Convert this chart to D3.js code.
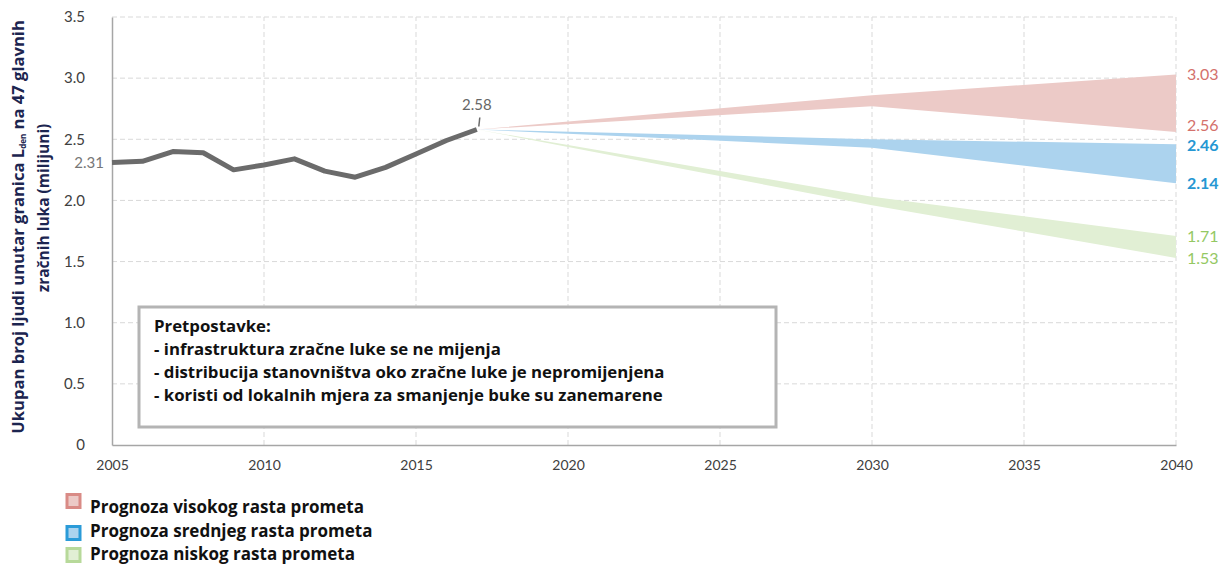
<!DOCTYPE html>
<html><head><meta charset="utf-8">
<script src="https://cdn.jsdelivr.net/npm/d3@7"></script>
<style>
body{margin:0;background:#fff;}
svg{display:block;font-family:Lato,"Open Sans",sans-serif;}
</style></head>
<body><svg id="c" width="1219" height="566"></svg>
<script>
// ---- data ----
const histYears = [2005,2006,2007,2008,2009,2010,2011,2012,2013,2014,2015,2016,2017];
const histValues = [2.31,2.32,2.40,2.39,2.25,2.29,2.34,2.24,2.19,2.27,2.38,2.49,2.58];
const forecastYears = [2017,2030,2040];
const highUpper = [2.58,2.86,3.03];
const highLower = [2.58,2.77,2.56];
const midUpper  = [2.58,2.50,2.46];
const midLower  = [2.58,2.43,2.14];
const lowUpper  = [2.58,2.03,1.71];
const lowLower  = [2.58,1.96,1.53];
const seriesNames = ["Prognoza visokog rasta prometa","Prognoza srednjeg rasta prometa","Prognoza niskog rasta prometa"];
const yTicks = [0,0.5,1.0,1.5,2.0,2.5,3.0,3.5];
const xTicks = [2005,2010,2015,2020,2025,2030,2035,2040];
const assumptionsTitle = "Pretpostavke:";
const assumptions = ["- infrastruktura zračne luke se ne mijenja","- distribucija stanovništva oko zračne luke je nepromijenjena","- koristi od lokalnih mjera za smanjenje buke su zanemarene"];

const svg = d3.select("#c");
const x = d3.scaleLinear().domain([2005,2040]).range([112,1176]);
const y = d3.scaleLinear().domain([0,3.5]).range([445,17]);
const boldFont = "'Open Sans',Lato,sans-serif";

const bands = [
  {name:seriesNames[0], up:highUpper, lo:highLower, fill:"#eccac7", stroke:"#d98b86", label:"#d4716c", bold:false},
  {name:seriesNames[1], up:midUpper, lo:midLower, fill:"#acd3ee", stroke:"#2b9bd8", label:"#2597d3", bold:true},
  {name:seriesNames[2], up:lowUpper, lo:lowLower, fill:"#e1efd4", stroke:"#b7d99a", label:"#94c863", bold:false}
];

// grid
const grid = svg.append("g");
grid.selectAll("line.h").data(yTicks.filter(d=>d>0)).join("line")
  .attr("x1",x(2005)).attr("x2",x(2040)).attr("y1",d=>y(d)).attr("y2",d=>y(d))
  .attr("stroke","#d9d9d9").attr("stroke-dasharray","5,3").attr("stroke-width",1);
grid.selectAll("line.v").data(xTicks.filter(d=>d>2005)).join("line")
  .attr("x1",d=>x(d)).attr("x2",d=>x(d)).attr("y1",y(0)).attr("y2",y(3.5))
  .attr("stroke","#d9d9d9").attr("stroke-dasharray","5,3").attr("stroke-width",1);

// axes
const yAxis = svg.append("g").attr("transform",`translate(${x(2005)},0)`)
  .call(d3.axisLeft(y).tickValues(yTicks).tickSize(0).tickPadding(27)
    .tickFormat(d=>d===0?"0":d3.format(".1f")(d)));
yAxis.select(".domain").attr("stroke","#a6a6a6").attr("stroke-width",1.5);
yAxis.selectAll("text").attr("font-size",15).attr("fill","#404040").attr("font-family","Lato,sans-serif");

const xAxis = svg.append("g").attr("transform",`translate(0,${y(0)})`)
  .call(d3.axisBottom(x).tickValues(xTicks).tickSize(0).tickPadding(15).tickFormat(d3.format("d")));
xAxis.select(".domain").attr("stroke","#a6a6a6").attr("stroke-width",1.5);
xAxis.selectAll("text").attr("font-size",14).attr("fill","#404040").attr("font-family","Lato,sans-serif");

// bands
const area = d3.area().x((d,i)=>x(forecastYears[i])).y0(d=>y(d[1])).y1(d=>y(d[0]));
bands.forEach(b=>{
  svg.append("path").datum(b.up.map((u,i)=>[u,b.lo[i]]))
    .attr("d",area).attr("fill",b.fill);
});

// historical line
svg.append("path").datum(histValues)
  .attr("d",d3.line().x((d,i)=>x(histYears[i])).y(d=>y(d)))
  .attr("fill","none").attr("stroke","#6b6b6b").attr("stroke-width",5).attr("stroke-linejoin","round");

// labels on historical
const last = histValues.length-1;
svg.append("line").attr("x1",x(histYears[last])+2).attr("x2",x(histYears[last])+3)
  .attr("y1",y(histValues[last])-3).attr("y2",y(histValues[last])-12).attr("stroke","#6b6b6b").attr("stroke-width",1.5);
svg.append("text").attr("x",x(histYears[last])).attr("y",y(histValues[last])-20)
  .attr("text-anchor","middle").attr("font-size",15).attr("fill","#666").text(d3.format(".2f")(histValues[last]));
svg.append("text").attr("x",x(histYears[0])-8).attr("y",y(histValues[0])+5)
  .attr("text-anchor","end").attr("font-size",15).attr("fill","#777").text(d3.format(".2f")(histValues[0]));

// end labels
bands.forEach((b,bi)=>{
  const n = b.up.length-1;
  [b.up[n], b.lo[n]].forEach((v,k)=>{
    let nudge = 0;
    if (bi===0 && k===1) nudge = -7;
    if (bi===1 && k===0) nudge = 1;
    svg.append("text").attr("x",x(2040)+11).attr("y",y(v)+6+nudge)
      .attr("font-size",16).attr("font-weight",b.bold?"bold":"normal")
      .attr("fill",b.label).text(d3.format(".2f")(v));
  });
});

// assumptions box
svg.append("rect").attr("x",139).attr("y",307).attr("width",637).attr("height",120)
  .attr("fill","#fff").attr("stroke","#b4b4b4").attr("stroke-width",3);
const bt = svg.append("g").attr("font-size",16.8).attr("font-weight","bold").attr("fill","#111")
  .attr("font-family",boldFont);
[assumptionsTitle].concat(assumptions).forEach((t,i)=>{
  bt.append("text").attr("x",154).attr("y",332+i*23).text(t);
});

// y title
const yt = svg.append("g").attr("font-weight","bold").attr("fill","#1c2550").attr("font-size",16.6)
  .attr("font-family",boldFont);
const t1 = yt.append("text").attr("transform","translate(24,227) rotate(-90)").attr("text-anchor","middle");
t1.append("tspan").text("Ukupan broj ljudi unutar granica L");
t1.append("tspan").attr("font-size",8).attr("dy",2).text("den");
t1.append("tspan").attr("dy",-2).text(" na 47 glavnih");
yt.append("text").attr("transform","translate(49,208) rotate(-90)").attr("text-anchor","middle")
  .attr("font-size",15.5).text("zračnih luka (milijuni)");

// legend
const lg = svg.append("g");
bands.forEach((b,i)=>{
  const yy = [493,525,547][i];
  lg.append("rect").attr("x",67).attr("y",yy+1.5).attr("width",13).attr("height",13)
    .attr("fill",b.fill).attr("stroke",b.stroke).attr("stroke-width",3);
  lg.append("text").attr("x",90).attr("y",[513,537,560][i]).attr("font-size",17)
    .attr("font-weight","bold").attr("fill","#111").attr("font-family",boldFont).text(b.name);
});
</script></body></html>
